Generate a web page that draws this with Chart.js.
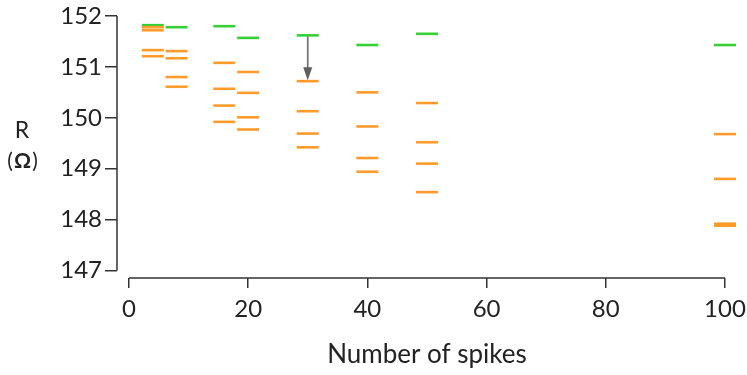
<!DOCTYPE html>
<html>
<head>
<meta charset="utf-8">
<script src="https://cdn.jsdelivr.net/npm/chart.js@4"></script>
<style>
  html, body { margin: 0; padding: 0; background: #ffffff; }
  #wrap { width: 747px; height: 375px; position: relative; }
</style>
</head>
<body>
<div id="wrap"><canvas id="chart" width="747" height="375"></canvas></div>
<script>
// Number of spikes at which resistance was measured
const spikeCounts = [4, 8, 16, 20, 30, 40, 50, 100];

// Reference resistance at each spike count (green)
const referenceR = [151.82, 151.78, 151.80, 151.57, 151.62, 151.43, 151.65, 151.43];

// Measured resistances at each spike count (orange), one list per count
const measuredR4   = [151.78, 151.72, 151.33, 151.21];
const measuredR8   = [151.31, 151.17, 150.80, 150.61];
const measuredR16  = [151.08, 150.57, 150.24, 149.92];
const measuredR20  = [150.90, 150.49, 150.01, 149.77];
const measuredR30  = [150.72, 150.13, 149.69, 149.42];
const measuredR40  = [150.50, 149.83, 149.21, 148.94];
const measuredR50  = [150.29, 149.52, 149.10, 148.54];
const measuredR100 = [149.68, 148.80, 147.92, 147.88];
const measuredGroups = [measuredR4, measuredR8, measuredR16, measuredR20,
                        measuredR30, measuredR40, measuredR50, measuredR100];

// Annotated drop at 30 spikes: from reference level to top measured level
const arrowStart = { x: 30, y: 151.62 };
const arrowEnd   = { x: 30, y: 150.72 };

// Axis ticks and titles
const xTicks = [0, 20, 40, 60, 80, 100];
const yTicks = [147, 148, 149, 150, 151, 152];
const xTitle = 'Number of spikes';
const yTitleTop = 'R';
const yTitleUnit = 'Ω';

const FONT = "Lato, 'Open Sans', sans-serif";
const INK = '#222222';
const AXIS = '#333333';

const greenPoints = spikeCounts.map((x, i) => ({ x, y: referenceR[i] }));
const orangePoints = [];
spikeCounts.forEach((x, i) => measuredGroups[i].forEach(y => orangePoints.push({ x, y })));

// Detached axis lines, the annotation arrow and the axis titles
const decorations = {
  id: 'decorations',
  afterDatasetsDraw(chart) {
    const { ctx, scales: { x, y } } = chart;
    ctx.save();
    ctx.strokeStyle = AXIS;
    ctx.lineWidth = 1.5;
    ctx.beginPath();
    const ax = chart.chartArea.left;
    ctx.moveTo(ax, y.getPixelForValue(yTicks[0]));
    ctx.lineTo(ax, y.getPixelForValue(yTicks[yTicks.length - 1]));
    const ay = chart.chartArea.bottom;
    ctx.moveTo(x.getPixelForValue(xTicks[0]), ay);
    ctx.lineTo(x.getPixelForValue(xTicks[xTicks.length - 1]), ay);
    ctx.stroke();

    // arrow
    const px = x.getPixelForValue(arrowStart.x);
    const y0 = y.getPixelForValue(arrowStart.y) + 1;
    const y1 = y.getPixelForValue(arrowEnd.y) - 1;
    const headH = 13, headW = 4.5;
    ctx.strokeStyle = '#777777';
    ctx.fillStyle = '#5e5e5e';
    ctx.lineWidth = 1.8;
    ctx.beginPath();
    ctx.moveTo(px, y0);
    ctx.lineTo(px, y1 - headH + 2);
    ctx.stroke();
    ctx.beginPath();
    ctx.moveTo(px - headW, y1 - headH);
    ctx.lineTo(px + headW, y1 - headH);
    ctx.lineTo(px, y1);
    ctx.closePath();
    ctx.fill();

    // titles
    ctx.fillStyle = INK;
    ctx.textAlign = 'center';
    ctx.textBaseline = 'middle';
    ctx.font = 'normal 400 23px ' + FONT;
    ctx.fillText(yTitleTop, 22, 131);
    ctx.font = 'normal 400 21px ' + FONT;
    ctx.fillText('(', 10, 161);
    ctx.fillText(')', 35, 161);
    ctx.font = 'normal 700 21px ' + FONT;
    ctx.fillText(yTitleUnit, 22.5, 161);

    ctx.font = 'normal 400 26px ' + FONT;
    const cx = (x.getPixelForValue(xTicks[0]) + x.getPixelForValue(xTicks[xTicks.length - 1])) / 2;
    ctx.fillText(xTitle, cx, 355);
    ctx.restore();
  }
};

new Chart(document.getElementById('chart'), {
  type: 'scatter',
  data: {
    datasets: [
      {
        label: 'Measured',
        data: orangePoints,
        pointStyle: 'line',
        pointRadius: 11,
        pointHoverRadius: 11,
        borderColor: '#ff9b2b',
        backgroundColor: '#ff9b2b',
        pointBorderWidth: 2.6,
        clip: false
      },
      {
        label: 'Reference',
        data: greenPoints,
        pointStyle: 'line',
        pointRadius: 11,
        pointHoverRadius: 11,
        borderColor: '#36cf36',
        backgroundColor: '#36cf36',
        pointBorderWidth: 2.6,
        clip: false
      }
    ]
  },
  options: {
    responsive: false,
    animation: false,
    events: [],
    layout: { padding: { top: 16, right: 22, bottom: 0, left: 0 } },
    plugins: { legend: { display: false }, tooltip: { enabled: false } },
    scales: {
      x: {
        type: 'linear',
        min: -2,
        max: 100,
        afterBuildTicks: s => { s.ticks = xTicks.map(v => ({ value: v })); },
        afterFit: s => { s.height = 97; s.paddingLeft = 0; s.paddingRight = 0; },
        border: { display: false },
        grid: { drawOnChartArea: false, drawTicks: true, tickLength: 10, color: AXIS, lineWidth: 1.5 },
        ticks: { color: INK, font: { family: FONT, size: 24 }, padding: 7, maxRotation: 0 }
      },
      y: {
        type: 'linear',
        min: 146.853,
        max: 152,
        afterBuildTicks: s => { s.ticks = yTicks.map(v => ({ value: v })); },
        afterFit: s => { s.width = 117; s.paddingTop = 0; s.paddingBottom = 0; },
        border: { display: false },
        grid: { drawOnChartArea: false, drawTicks: true, tickLength: 12, color: AXIS, lineWidth: 1.5 },
        ticks: { color: INK, font: { family: FONT, size: 24 }, padding: 3 }
      }
    }
  },
  plugins: [decorations]
});
</script>
</body>
</html>
